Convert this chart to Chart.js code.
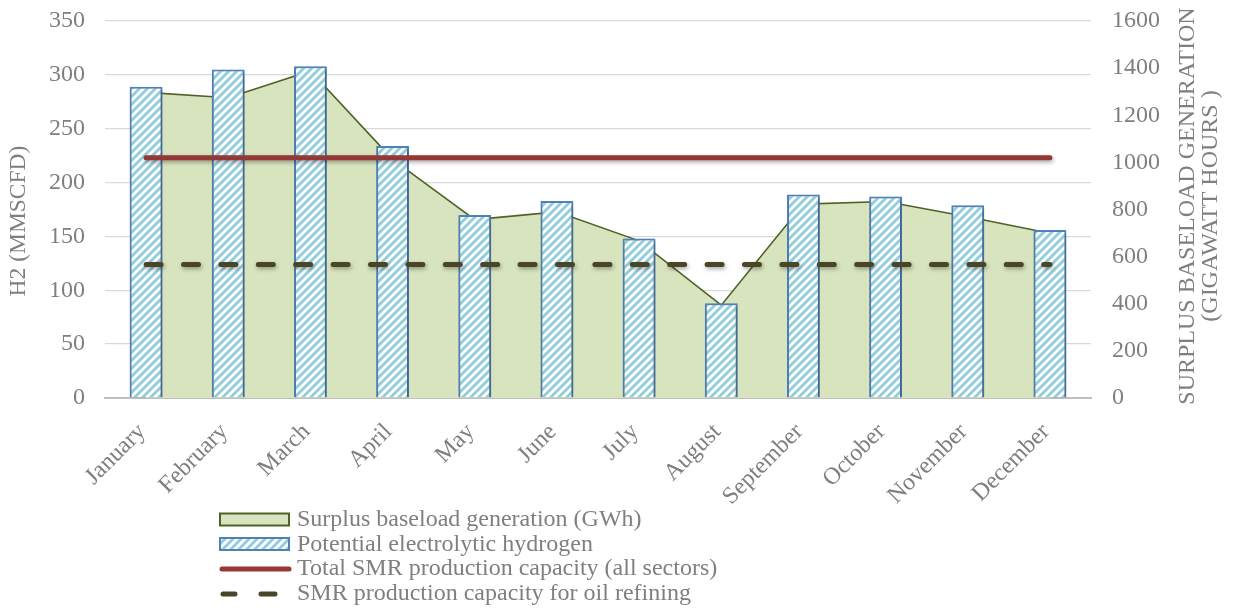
<!DOCTYPE html>
<html>
<head>
<meta charset="utf-8">
<style>
  html, body { margin: 0; padding: 0; background: #ffffff; }
  #wrap { width: 1234px; height: 610px; position: relative; }
</style>
<script src="https://cdn.jsdelivr.net/npm/chart.js@4/dist/chart.umd.min.js"></script>
</head>
<body>
<div id="wrap"><canvas id="chart" width="1234" height="610"></canvas></div>
<script>
// Monthly categories
const months = ['January', 'February', 'March', 'April', 'May', 'June',
  'July', 'August', 'September', 'October', 'November', 'December'];

// Surplus baseload generation, GWh (right axis)
const surplusGWh = [1297, 1274, 1388, 1013, 757, 790, 667, 394, 823, 834, 769, 699];

// Potential electrolytic hydrogen, MMSCFD (left axis)
const electrolyticH2 = [289, 305, 308, 234, 170, 183, 148, 88, 189, 187, 179, 156];

// SMR capacities, MMSCFD (left axis)
const smrTotal = [223, 223, 223, 223, 223, 223, 223, 223, 223, 223, 223, 223];
const smrRefining = [124, 124, 124, 124, 124, 124, 124, 124, 124, 124, 124, 124];

// Axis tick settings
const leftTicks = { min: 0, max: 350, step: 50 };
const rightTicks = { min: 0, max: 1600, step: 200 };

const SERIF = "'Liberation Serif', 'DejaVu Serif', serif";
const GREY = '#7f7f7f';

// Wide upward diagonal hatch for the hydrogen bars
function makeHatch() {
  const c = document.createElement('canvas');
  c.width = 8; c.height = 8;
  const g = c.getContext('2d');
  g.fillStyle = '#92cddc';
  g.fillRect(0, 0, 8, 8);
  g.strokeStyle = '#ffffff';
  g.lineWidth = 2.8;
  g.beginPath();
  g.moveTo(-2, 10); g.lineTo(10, -2);
  g.moveTo(-6, 6); g.lineTo(6, -6);
  g.moveTo(2, 14); g.lineTo(14, 2);
  g.stroke();
  return g.createPattern(c, 'repeat');
}
const hatch = makeHatch();

// Soft drop shadow under bars and capacity lines
const shadowPlugin = {
  id: 'markShadow',
  beforeDatasetDraw(chart, args) {
    const ds = chart.data.datasets[args.index];
    if (!ds.shadow) return;
    const ctx = chart.ctx;
    ctx.save();
    ctx.shadowColor = 'rgba(0,0,0,0.35)';
    ctx.shadowBlur = ds.shadow;
    ctx.shadowOffsetX = 1;
    ctx.shadowOffsetY = 2;
  },
  afterDatasetDraw(chart, args) {
    const ds = chart.data.datasets[args.index];
    if (!ds.shadow) return;
    chart.ctx.restore();
  }
};

// Axis titles (right title reads bottom to top, two lines)
const titlesPlugin = {
  id: 'axisTitles',
  afterDraw(chart) {
    const ctx = chart.ctx;
    ctx.save();
    ctx.fillStyle = GREY;
    ctx.textAlign = 'center';
    ctx.textBaseline = 'middle';
    ctx.font = '23.5px ' + SERIF;
    ctx.translate(19, 221);
    ctx.rotate(-Math.PI / 2);
    ctx.fillText('H2 (MMSCFD)', 0, 0);
    ctx.restore();

    ctx.save();
    ctx.fillStyle = GREY;
    ctx.textAlign = 'center';
    ctx.textBaseline = 'middle';
    ctx.font = '24px ' + SERIF;
    ctx.translate(1188, 206);
    ctx.rotate(-Math.PI / 2);
    ctx.fillText('SURPLUS BASELOAD GENERATION', 0, 0);
    ctx.fillText('(GIGAWATT HOURS )', 0, 23);
    ctx.restore();
  }
};

// Stacked legend below the plot
const legendPlugin = {
  id: 'stackLegend',
  afterDraw(chart) {
    const ctx = chart.ctx;
    const ds = chart.data.datasets;
    const sx0 = 220, sx1 = 289, tx = 297;
    const rows = [520, 544.5, 569, 594];
    ctx.save();
    // area swatch
    ctx.fillStyle = ds[0].backgroundColor;
    ctx.fillRect(sx0, 513.5, sx1 - sx0, 12);
    ctx.strokeStyle = ds[0].borderColor;
    ctx.lineWidth = 2;
    ctx.strokeRect(sx0, 513.5, sx1 - sx0, 12);
    // bar swatch
    ctx.fillStyle = hatch;
    ctx.fillRect(sx0, 538, sx1 - sx0, 12);
    ctx.strokeStyle = ds[1].borderColor;
    ctx.lineWidth = 2;
    ctx.strokeRect(sx0, 538, sx1 - sx0, 12);
    // total SMR line
    ctx.lineCap = 'round';
    ctx.strokeStyle = ds[2].borderColor;
    ctx.lineWidth = ds[2].borderWidth;
    ctx.beginPath(); ctx.moveTo(sx0 + 2, rows[2]); ctx.lineTo(sx1, rows[2]); ctx.stroke();
    // refining SMR dashes
    ctx.strokeStyle = ds[3].borderColor;
    ctx.lineWidth = ds[3].borderWidth;
    ctx.beginPath();
    ctx.moveTo(223, rows[3]); ctx.lineTo(235, rows[3]);
    ctx.moveTo(261, rows[3]); ctx.lineTo(275, rows[3]);
    ctx.stroke();
    // labels
    ctx.fillStyle = GREY;
    ctx.font = '24px ' + SERIF;
    ctx.textAlign = 'left';
    ctx.textBaseline = 'middle';
    for (let i = 0; i < ds.length; i++) {
      ctx.fillText(ds[i].label, tx, rows[i]);
    }
    ctx.restore();
  }
};

// Fixed axis box sizes so the plot area lands where intended
function fixVertical(width) {
  return (s) => {
    s.width = width;
    s.paddingTop = 0;
    s.paddingBottom = 0;
  };
}

const ctx = document.getElementById('chart').getContext('2d');
new Chart(ctx, {
  type: 'bar',
  data: {
    labels: months,
    datasets: [
      {
        type: 'line',
        label: 'Surplus baseload generation (GWh)',
        data: surplusGWh,
        yAxisID: 'yRight',
        fill: 'origin',
        backgroundColor: '#d7e4bd',
        borderColor: '#4f6228',
        borderWidth: 1.6,
        pointRadius: 0,
        tension: 0,
        order: 4
      },
      {
        type: 'bar',
        label: 'Potential electrolytic hydrogen',
        data: electrolyticH2,
        yAxisID: 'yLeft',
        backgroundColor: hatch,
        borderColor: '#4f81bd',
        borderWidth: 2,
        barPercentage: 0.4,
        categoryPercentage: 1,
        shadow: 3,
        order: 3
      },
      {
        type: 'line',
        label: 'Total SMR production capacity (all sectors)',
        data: smrTotal,
        yAxisID: 'yLeft',
        borderColor: '#953735',
        borderWidth: 5,
        borderCapStyle: 'round',
        pointRadius: 0,
        fill: false,
        shadow: 4,
        order: 1
      },
      {
        type: 'line',
        label: 'SMR production capacity for oil refining',
        data: smrRefining,
        yAxisID: 'yLeft',
        borderColor: '#4a4527',
        borderWidth: 5,
        borderDash: [15, 22.4],
        borderCapStyle: 'round',
        pointRadius: 0,
        fill: false,
        shadow: 4,
        order: 2
      }
    ]
  },
  options: {
    responsive: false,
    animation: false,
    events: [],
    layout: { padding: { top: 21, left: 0, right: 0, bottom: 0 } },
    plugins: { legend: { display: false }, tooltip: { enabled: false } },
    scales: {
      x: {
        offset: true,
        grid: { display: false, drawTicks: false },
        border: { display: true, color: '#bfbfbf', width: 2 },
        ticks: {
          color: GREY,
          font: { family: SERIF, size: 24 },
          maxRotation: 45,
          minRotation: 45,
          padding: 20,
          labelOffset: -4,
          autoSkip: false
        },
        afterFit(s) { s.height = 212; s.paddingLeft = 0; s.paddingRight = 0; }
      },
      yLeft: {
        position: 'left',
        min: leftTicks.min,
        max: leftTicks.max,
        grid: { color: '#d9d9d9', lineWidth: 1.3, drawTicks: false },
        border: { display: false },
        ticks: {
          stepSize: leftTicks.step,
          color: GREY,
          font: { family: SERIF, size: 24 },
          padding: 20
        },
        afterFit: fixVertical(105)
      },
      yRight: {
        position: 'right',
        min: rightTicks.min,
        max: rightTicks.max,
        grid: { display: false, drawTicks: false },
        border: { display: false },
        ticks: {
          stepSize: rightTicks.step,
          color: GREY,
          font: { family: SERIF, size: 24 },
          padding: 21,
          callback: (v) => String(v)
        },
        afterFit: fixVertical(143)
      }
    }
  },
  plugins: [shadowPlugin, titlesPlugin, legendPlugin]
});
</script>
</body>
</html>
